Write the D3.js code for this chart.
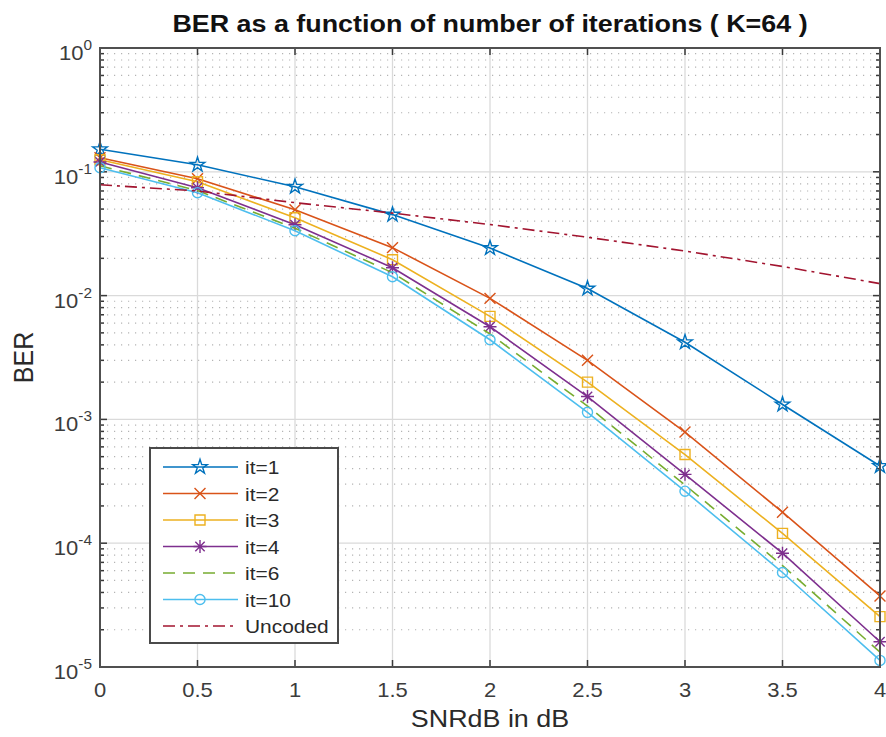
<!DOCTYPE html>
<html>
<head>
<meta charset="utf-8">
<script src="https://cdn.jsdelivr.net/npm/d3@7"></script>
<style>
body { margin: 0; background: #fff; }
text { font-family: "Liberation Sans", Arial, sans-serif; }
</style>
</head>
<body>
<div id="chart"></div>
<script>
// DATA
const snrDb = [0, 0.5, 1, 1.5, 2, 2.5, 3, 3.5, 4];
const berIt1 = [0.152, 0.114, 0.0757, 0.0451, 0.0242, 0.0114, 0.0042, 0.00132, 0.00042];
const berIt2 = [0.130, 0.088, 0.0494, 0.0244, 0.0095, 0.0030, 0.00079, 0.000178, 0.0000375];
const berIt3 = [0.125, 0.083, 0.0426, 0.0195, 0.0068, 0.0020, 0.00052, 0.00012, 0.0000255];
const berIt4 = [0.120, 0.0743, 0.0374, 0.0168, 0.0056, 0.00153, 0.00036, 0.000083, 0.000016];
const berIt6 = [0.112, 0.0705, 0.0350, 0.0153, 0.0049, 0.00128, 0.000295, 0.000066, 0.0000132];
const berIt10 = [0.108, 0.0678, 0.0334, 0.0142, 0.0044, 0.00114, 0.000263, 0.000058, 0.0000113];
const berUncoded = [0.0786, 0.070, 0.0563, 0.0464, 0.0375, 0.0296, 0.0229, 0.0172, 0.0125];
const seriesNames = ["it=1", "it=2", "it=3", "it=4", "it=6", "it=10", "Uncoded"];
const xTicks = [0, 0.5, 1, 1.5, 2, 2.5, 3, 3.5, 4];
const yExponents = [0, -1, -2, -3, -4, -5];

// MARGIN CONVENTIONS
const outerWidth = 886;
const outerHeight = 737;
const margin = { top: 48, right: 6, bottom: 70, left: 100 };
const width = outerWidth - margin.left - margin.right;
const height = outerHeight - margin.top - margin.bottom;
const sx = 1.1; // the figure's text is a bit wide

const svg = d3.select("#chart").append("svg")
	.attr("width", outerWidth)
	.attr("height", outerHeight);

const g = svg.append("g")
	.attr("transform", `translate(${margin.left}, ${margin.top})`);

const x = d3.scaleLinear().domain([0, 4]).range([0, width]);
const y = d3.scaleLog().domain([1e-5, 1]).range([height, 0]);

// minor decades 2..9
const minorY = [];
yExponents.slice(1).forEach(e => {
	for (let k = 2; k <= 9; k++) minorY.push(k * Math.pow(10, e));
});

// grid
g.append("g").selectAll("line")
	.data(minorY)
	.enter().append("line")
	.attr("x1", 0).attr("x2", width)
	.attr("y1", d => y(d)).attr("y2", d => y(d))
	.attr("stroke", "#b4b4b4")
	.attr("stroke-width", 1.2)
	.attr("stroke-dasharray", "1.2,5.8");

g.append("g").selectAll("line")
	.data(xTicks)
	.enter().append("line")
	.attr("x1", d => x(d)).attr("x2", d => x(d))
	.attr("y1", 0).attr("y2", height)
	.attr("stroke", "#dadada")
	.attr("stroke-width", 1.3);

g.append("g").selectAll("line")
	.data(yExponents)
	.enter().append("line")
	.attr("x1", 0).attr("x2", width)
	.attr("y1", d => y(Math.pow(10, d))).attr("y2", d => y(Math.pow(10, d)))
	.attr("stroke", "#dadada")
	.attr("stroke-width", 1.3);

// ticks (inside, on all four sides)
const tickG = g.append("g").attr("stroke", "#3a3a3a").attr("stroke-width", 1.5);
xTicks.forEach(d => {
	tickG.append("line").attr("x1", x(d)).attr("x2", x(d)).attr("y1", height).attr("y2", height - 7);
	tickG.append("line").attr("x1", x(d)).attr("x2", x(d)).attr("y1", 0).attr("y2", 7);
});
yExponents.forEach(e => {
	const yy = y(Math.pow(10, e));
	tickG.append("line").attr("x1", 0).attr("x2", 7).attr("y1", yy).attr("y2", yy);
	tickG.append("line").attr("x1", width).attr("x2", width - 7).attr("y1", yy).attr("y2", yy);
});
minorY.forEach(d => {
	tickG.append("line").attr("x1", 0).attr("x2", 4).attr("y1", y(d)).attr("y2", y(d));
	tickG.append("line").attr("x1", width).attr("x2", width - 4).attr("y1", y(d)).attr("y2", y(d));
});

// tick labels
g.append("g").selectAll("text")
	.data(xTicks)
	.enter().append("text")
	.attr("transform", d => `translate(${x(d)}, ${height + 30}) scale(${sx},1)`)
	.attr("text-anchor", "middle")
	.style("font-size", "20px")
	.attr("fill", "#3c3c3c")
	.text(d => d3.format("~g")(d));

const yLab = g.append("g").selectAll("text")
	.data(yExponents)
	.enter().append("text")
	.attr("transform", d => `translate(-8, ${y(Math.pow(10, d)) + 12}) scale(${sx},1)`)
	.attr("text-anchor", "end")
	.style("font-size", "20px")
	.attr("fill", "#3c3c3c");
yLab.append("tspan").text("10");
yLab.append("tspan")
	.attr("dy", -10)
	.style("font-size", "14px")
	.text(d => d === 0 ? "0" : "-" + Math.abs(d));

// series
const markerShapes = {
	star: d3.symbol(d3.symbolStar, 66)(),
	times: d3.symbol(d3.symbolTimes, 80)(),
	square: d3.symbol(d3.symbolSquare, 100)(),
	asterisk: (() => {
		const p = d3.path(), r = 6.5, q = r * 0.72;
		p.moveTo(-r, 0); p.lineTo(r, 0);
		p.moveTo(0, -r); p.lineTo(0, r);
		p.moveTo(-q, -q); p.lineTo(q, q);
		p.moveTo(-q, q); p.lineTo(q, -q);
		return p.toString();
	})(),
	circle: d3.symbol(d3.symbolCircle, 80)()
};

const series = [
	{ name: seriesNames[0], values: berIt1, color: "#0072BD", marker: "star", dash: null },
	{ name: seriesNames[1], values: berIt2, color: "#D95319", marker: "times", dash: null },
	{ name: seriesNames[2], values: berIt3, color: "#EDB120", marker: "square", dash: null },
	{ name: seriesNames[3], values: berIt4, color: "#7E2F8E", marker: "asterisk", dash: null },
	{ name: seriesNames[4], values: berIt6, color: "#77AC30", marker: null, dash: "12,8" },
	{ name: seriesNames[5], values: berIt10, color: "#4DBEEE", marker: "circle", dash: null },
	{ name: seriesNames[6], values: berUncoded, color: "#A2142F", marker: null, dash: "12,5,3,5" }
];

const line = d3.line()
	.x((d, i) => x(snrDb[i]))
	.y(d => y(d));

series.forEach(s => {
	g.append("path")
		.datum(s.values)
		.attr("d", line)
		.attr("fill", "none")
		.attr("stroke", s.color)
		.attr("stroke-width", 1.6)
		.attr("stroke-dasharray", s.dash);
	if (s.marker) {
		g.append("g").selectAll("path")
			.data(s.values)
			.enter().append("path")
			.attr("d", markerShapes[s.marker])
			.attr("transform", (d, i) => `translate(${x(snrDb[i])}, ${y(d)})`)
			.attr("fill", "none")
			.attr("stroke", s.color)
			.attr("stroke-width", 1.4);
	}
});

// axes box
g.append("rect")
	.attr("width", width)
	.attr("height", height)
	.attr("fill", "none")
	.attr("stroke", "#505050")
	.attr("stroke-width", 2);

// labels
svg.append("text")
	.attr("transform", `translate(${margin.left + width / 2}, 32) scale(1.12,1)`)
	.attr("text-anchor", "middle")
	.style("font-size", "24px")
	.style("font-weight", "bold")
	.attr("fill", "#111")
	.text("BER as a function of number of iterations ( K=64 )");

svg.append("text")
	.attr("transform", `translate(${margin.left + width / 2}, 727) scale(1.12,1)`)
	.attr("text-anchor", "middle")
	.style("font-size", "24px")
	.attr("fill", "#2a2a2a")
	.text("SNRdB in dB");

svg.append("text")
	.attr("transform", `translate(33, ${margin.top + height / 2}) rotate(-90) scale(1,1.12)`)
	.attr("text-anchor", "middle")
	.style("font-size", "25px")
	.attr("fill", "#2a2a2a")
	.text("BER");

// legend
const legend = svg.append("g").attr("transform", "translate(150, 448)");
legend.append("rect")
	.attr("width", 188)
	.attr("height", 195)
	.attr("fill", "#fff")
	.attr("stroke", "#4a4a4a")
	.attr("stroke-width", 2);

const legendRows = legend.selectAll(".legend")
	.data(series)
	.enter().append("g")
	.attr("class", "legend")
	.attr("transform", (d, i) => `translate(0, ${19 + i * 26.5})`);

legendRows.append("line")
	.attr("x1", 13).attr("x2", 88)
	.attr("stroke", d => d.color)
	.attr("stroke-width", 1.6)
	.attr("stroke-dasharray", d => d.dash);

legendRows.filter(d => d.marker).append("path")
	.attr("d", d => markerShapes[d.marker])
	.attr("transform", "translate(50, 0)")
	.attr("fill", "none")
	.attr("stroke", d => d.color)
	.attr("stroke-width", 1.4);

legendRows.append("text")
	.attr("transform", `translate(95, 7) scale(${sx},1)`)
	.style("font-size", "19px")
	.attr("fill", "#2a2a2a")
	.text(d => d.name);
</script>
</body>
</html>
